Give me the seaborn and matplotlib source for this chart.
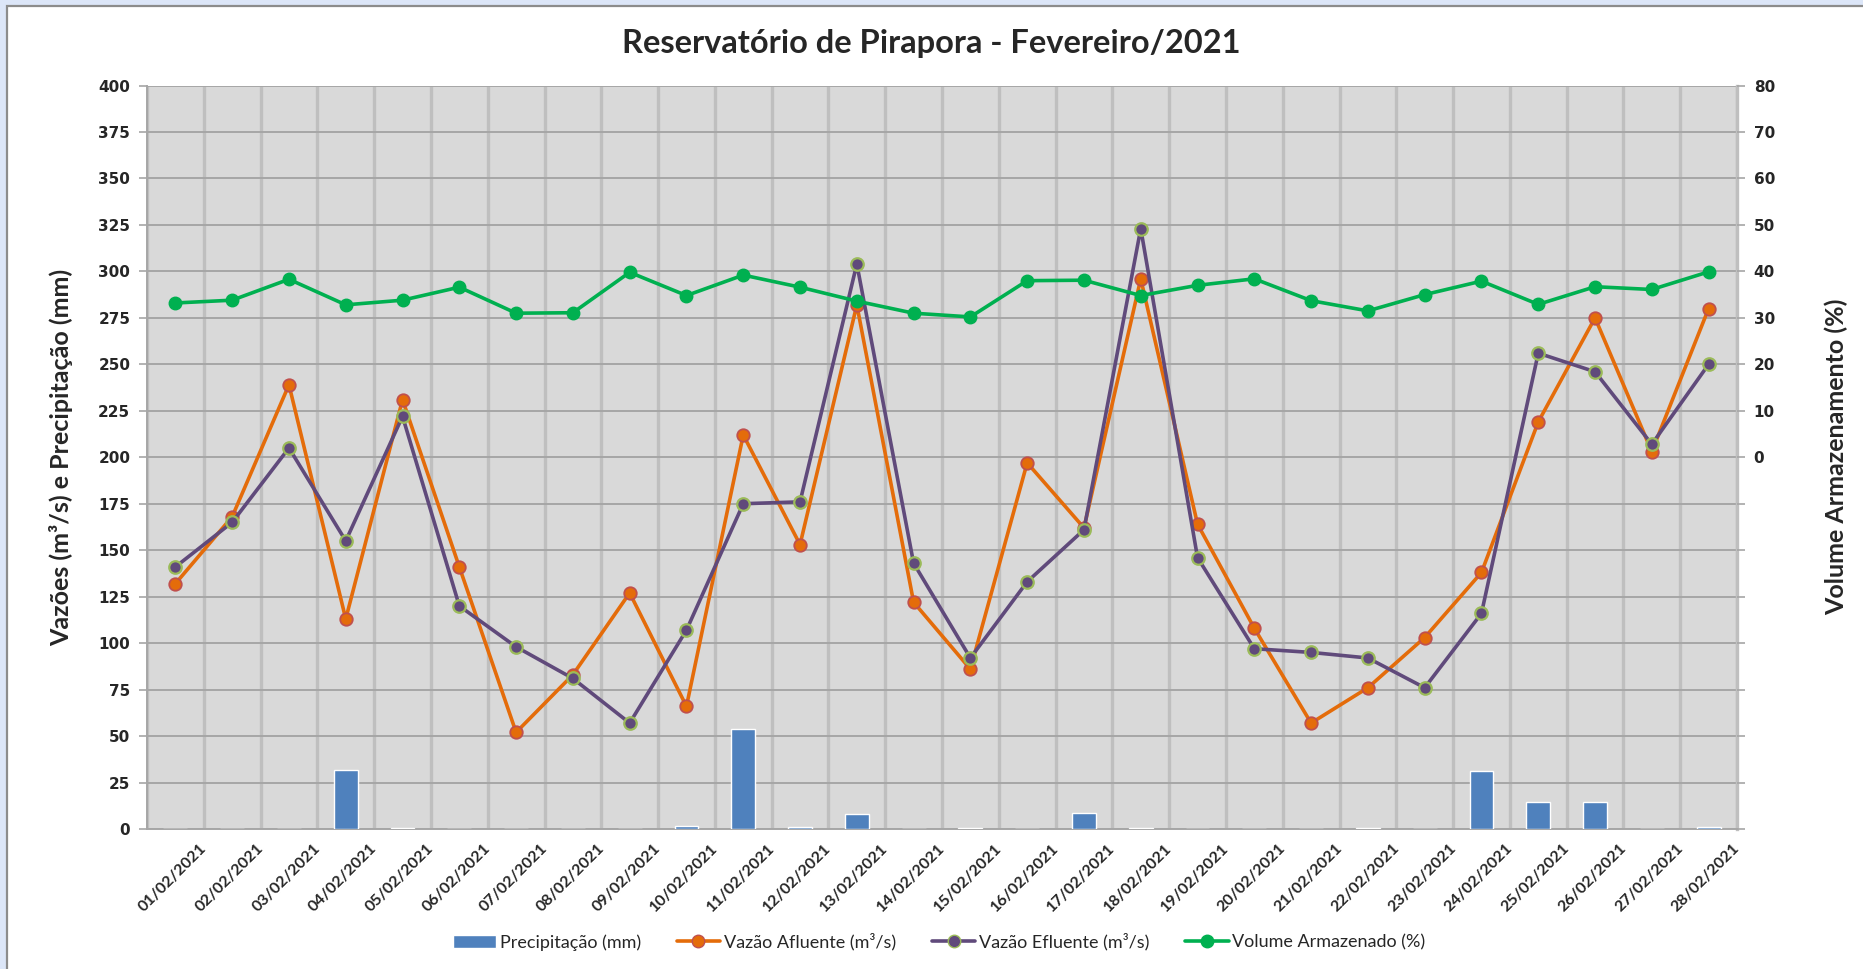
import pandas as pd
import seaborn as sns
import matplotlib.pyplot as plt
from matplotlib.patches import Rectangle, Patch
from matplotlib.lines import Line2D
from matplotlib.transforms import ScaledTranslation

# daily data, February 2021
dates = [f'{d:02d}/02/2021' for d in range(1, 29)]
precip = [0, 0, 0, 32, 0.5, 0, 0, 0, 0, 1.5, 54, 1, 8, 0,
          0.5, 0, 8.5, 0.5, 0, 0, 0, 0.5, 0, 31, 14.5, 14.5, 0, 1]
afluente = [132, 168, 239, 113, 231, 141, 52, 83, 127, 66, 212, 153, 282, 122,
            86, 197, 162, 296, 164, 108, 57, 76, 103, 138, 219, 275, 203, 280]
efluente = [141, 165, 205, 155, 222, 120, 98, 81, 57, 107, 175, 176, 304, 143,
            92, 133, 161, 323, 146, 97, 95, 92, 76, 116, 256, 246, 207, 250]
volume = [33.2, 33.8, 38.3, 32.8, 33.8, 36.6, 31.0, 31.1, 39.8, 34.8, 39.2, 36.6, 33.6, 31.0,
          30.2, 38.0, 38.1, 34.8, 37.0, 38.4, 33.7, 31.5, 35.0, 37.9, 32.9, 36.7, 36.1, 39.9]

df = pd.DataFrame({'data': dates, 'pos': range(len(dates)), 'precip': precip,
                   'afl': afluente, 'efl': efluente, 'vol': volume})

sns.set_style("white")
plt.rcParams['font.family'] = ['Lato', 'DejaVu Sans']

W, H = 1863, 969
fig = plt.figure(figsize=(W / 100, H / 100), dpi=100)
fig.patch.set_facecolor('#DCE6F8')
fig.patches.append(Rectangle((7 / W, -0.1), 1.2, 1.1 - 6 / H, transform=fig.transFigure,
                             facecolor='white', edgecolor='#8C8C8C', linewidth=1.6, zorder=-10))

ax = fig.add_axes([147 / W, 1 - 829 / H, (1737 - 147) / W, (829 - 85.5) / H])
ax.set_facecolor('#D9D9D9')

sns.barplot(data=df, x='data', y='precip', ax=ax, color='#4F81BD', width=0.42,
            saturation=1, zorder=3)
sns.lineplot(data=df, x='pos', y='afl', ax=ax, color='#E46C0A', linewidth=2.6,
             marker='o', markersize=9, markerfacecolor='#E46C0A',
             markeredgecolor='#C0504D', markeredgewidth=1.3, zorder=4)
sns.lineplot(data=df, x='pos', y='efl', ax=ax, color='#604A7B', linewidth=2.6,
             marker='o', markersize=9, markerfacecolor='#604A7B',
             markeredgecolor='#9BBB59', markeredgewidth=1.6, zorder=5)

ax.set_xlim(-0.5, len(dates) - 0.5)
ax.set_ylim(0, 400)
ax.set_yticks(range(0, 401, 25))
ax.set_xticks(range(len(dates)))
ax.set_xticks([i + 0.5 for i in range(-1, len(dates))], minor=True)
ax.tick_params(axis='x', which='major', length=0, pad=9)
ax.tick_params(axis='x', which='minor', length=6, width=1.2, color='#A6A6A6', direction='out')
ax.tick_params(axis='y', length=6, width=1.2, color='#A6A6A6', direction='out', pad=6)
ax.set_xticklabels(dates, rotation=45, ha='right', rotation_mode='anchor',
                   fontsize=11.5, fontweight='bold')
# excel puts the rotated labels a bit to the right of the category centre
shift = ScaledTranslation(24 / 100, 0, fig.dpi_scale_trans)
for t in ax.get_xticklabels():
    t.set_transform(t.get_transform() + shift)
for t in ax.get_yticklabels():
    t.set_fontfamily('DejaVu Sans')
    t.set_fontweight('bold')
    t.set_fontsize(11)

ax.grid(axis='y', which='major', color='#A6A6A6', linewidth=1.4, zorder=1)
ax.grid(axis='x', which='minor', color='#BFBFBF', linewidth=2.4, zorder=1)
ax.set_axisbelow(True)
ax.spines['top'].set_visible(False)
for s in ['left', 'bottom']:
    ax.spines[s].set_color('#A6A6A6')
    ax.spines[s].set_linewidth(1.4)
ax.spines['right'].set_color('#BFBFBF')
ax.spines['right'].set_linewidth(2.4)

ax.set_xlabel('')
ax.set_ylabel('Vazões (m³/s) e Precipitação (mm)', fontsize=18, fontweight='bold', labelpad=18)

# secondary axis for stored volume
ax2 = ax.twinx()
sns.lineplot(data=df, x='pos', y='vol', ax=ax2, color='#00B050', linewidth=2.6,
             marker='o', markersize=9, markerfacecolor='#00B050',
             markeredgecolor='#00B050', markeredgewidth=1, zorder=6)
ax2.set_ylim(-80, 80)
ax2.set_yticks(range(-80, 81, 10))
ax2.set_yticklabels([str(v) if v >= 0 else '' for v in range(-80, 81, 10)],
                    fontfamily='DejaVu Sans', fontweight='bold', fontsize=11)
ax2.tick_params(axis='y', length=6, width=1.2, color='#A6A6A6', direction='out', pad=6)
ax2.grid(False)
for s in ['top', 'left', 'bottom', 'right']:
    ax2.spines[s].set_visible(False)
ax2.set_xlim(-0.5, len(dates) - 0.5)
ax2.set_ylabel('Volume Armazenamento (%)', fontsize=18, fontweight='bold', labelpad=36)

fig.suptitle('Reservatório de Pirapora - Fevereiro/2021', fontsize=23.5, fontweight='bold',
             y=1 - 44 / H, va='center')

handles = [
    Patch(facecolor='#4F81BD', label='Precipitação (mm)'),
    Line2D([], [], color='#E46C0A', linewidth=2.6, marker='o', markersize=9,
           markerfacecolor='#E46C0A', markeredgecolor='#C0504D', label='Vazão Afluente (m³/s)'),
    Line2D([], [], color='#604A7B', linewidth=2.6, marker='o', markersize=9,
           markerfacecolor='#604A7B', markeredgecolor='#9BBB59', label='Vazão Efluente (m³/s)'),
    Line2D([], [], color='#00B050', linewidth=2.6, marker='o', markersize=9,
           markerfacecolor='#00B050', markeredgecolor='#00B050', label='Volume Armazenado (%)'),
]
fig.legend(handles=handles, loc='center', bbox_to_anchor=(939 / W, 1 - 942 / H), ncol=4,
           frameon=False, fontsize=13, handlelength=2.4, handletextpad=0.2,
           columnspacing=2.0)

fig.savefig('out.png', dpi=100)
